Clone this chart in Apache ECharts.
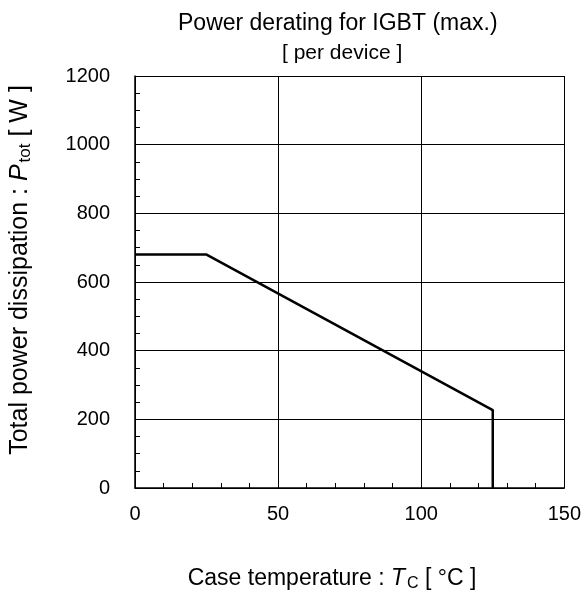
<!DOCTYPE html>
<html>
<head>
<meta charset="utf-8">
<script src="https://cdn.jsdelivr.net/npm/echarts@6/dist/echarts.min.js"></script>
<style>
  html, body { margin: 0; padding: 0; background: #fff; }
  #chart { width: 584px; height: 597px; }
</style>
</head>
<body>
<div id="chart"></div>
<script>
// Derating curve: case temperature (°C) vs. total power dissipation (W)
const caseTemp = [0, 25, 125, 125];
const powerTot = [680, 680, 227, 0];

const xTicks = [0, 50, 100, 150];
const yTicks = [0, 200, 400, 600, 800, 1000, 1200];

const font = 'Liberation Sans, Arial, sans-serif';
const chart = echarts.init(document.getElementById('chart'));

// Rich-text styles for axis titles with italic symbol and subscript
function nameRich(size) {
  const sub = Math.round(size * 0.68);
  return {
    t: { fontFamily: font, fontSize: size, fill: '#000' },
    i: { fontFamily: font, fontSize: size, fontStyle: 'italic', fill: '#000' },
    s: { fontFamily: font, fontSize: sub, fill: '#000', padding: [Math.round(size * 0.44), 0, 0, 2] }
  };
}

chart.setOption({
  backgroundColor: '#fff',
  animation: false,
  title: [
    { text: 'Power derating for IGBT (max.)', left: 173, top: 7,
      textStyle: { fontFamily: font, fontSize: 23, fontWeight: 'normal', color: '#000' } },
    { text: '[ per device ]', left: 277, top: 38,
      textStyle: { fontFamily: font, fontSize: 21, fontWeight: 'normal', color: '#000' } }
  ],
  graphic: [
    { type: 'text', x: 332, y: 579, z: 10,
      style: { text: '{t|Case temperature : }{i|T}{s|C}{t| [ °C ]}', rich: nameRich(23),
        align: 'center', verticalAlign: 'middle' } },
    { type: 'text', x: 20, y: 270, rotation: Math.PI / 2, z: 10,
      style: { text: '{t|Total power dissipation : }{i|P}{s|tot}{t| [ W ]}', rich: nameRich(25),
        align: 'center', verticalAlign: 'middle' } }
  ],
  grid: { left: 135, right: 16, top: 76, bottom: 109 },
  xAxis: {
    type: 'value', min: xTicks[0], max: xTicks[xTicks.length - 1], interval: 50,
    axisLine: { show: true, lineStyle: { color: '#000', width: 1.5 } },
    axisTick: { show: true, inside: true, length: 5, lineStyle: { color: '#000', width: 1 } },
    minorTick: { show: true, splitNumber: 5, length: 5, lineStyle: { color: '#000', width: 1 } },
    axisLabel: { fontFamily: font, fontSize: 20, color: '#000', margin: 16,
      formatter: v => xTicks.includes(v) ? String(v) : '' },
    splitLine: { show: true, lineStyle: { color: '#000', width: 1 } }
  },
  yAxis: {
    type: 'value', min: yTicks[0], max: yTicks[yTicks.length - 1], interval: 200,
    axisLine: { show: true, lineStyle: { color: '#000', width: 1.5 } },
    axisTick: { show: true, inside: true, length: 5, lineStyle: { color: '#000', width: 1 } },
    minorTick: { show: true, splitNumber: 4, length: 5, lineStyle: { color: '#000', width: 1 } },
    axisLabel: { fontFamily: font, fontSize: 20, color: '#000', margin: 25,
      formatter: v => yTicks.includes(v) ? String(v) : '' },
    splitLine: { show: true, lineStyle: { color: '#000', width: 1 } }
  },
  series: [{
    type: 'line',
    data: caseTemp.map((t, i) => [t, powerTot[i]]),
    symbol: 'none',
    lineStyle: { color: '#000', width: 2.5 },
    z: 5
  }]
});
</script>
</body>
</html>
